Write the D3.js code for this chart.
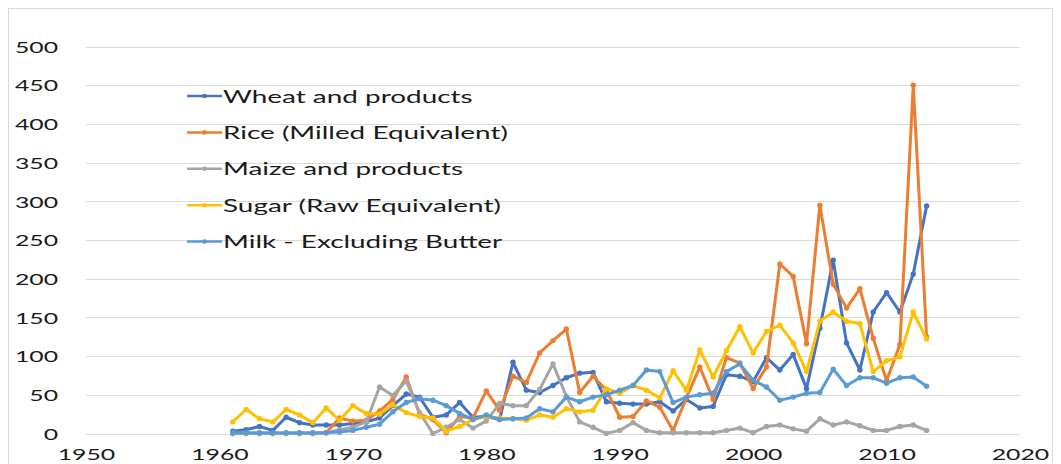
<!DOCTYPE html>
<html>
<head>
<meta charset="utf-8">
<script src="https://cdn.jsdelivr.net/npm/d3@7"></script>
<style>
  html, body { margin: 0; padding: 0; background: #fff; }
  svg { display: block; }
  text { font-family: Lato, "Open Sans", sans-serif; fill: #1a1a1a; }
</style>
</head>
<body>
<svg id="chart" width="1061" height="464"></svg>
<script>
// Yearly series, 1961–2013
const years = d3.range(1961, 2014);

const wheat = [3, 5, 9, 4, 21, 14, 11, 11, 11, 13, 15, 20, 36, 51, 47, 21, 24, 40, 21, 22,
  18, 92, 56, 53, 62, 72, 78, 79, 41, 39, 38, 38, 41, 29, 44, 33, 35, 76, 74, 67,
  98, 82, 102, 58, 136, 224, 117, 82, 157, 182, 157, 206, 294];

const rice = [0, 0, 0, 0, 0, 0, 0, 1, 20, 16, 17, 29, 44, 73, 25, 18, 1, 22, 20, 55,
  30, 74, 66, 104, 120, 135, 53, 74, 56, 21, 22, 42, 34, 4, 46, 86, 44, 98, 91, 58,
  86, 219, 203, 116, 295, 193, 162, 187, 123, 68, 115, 450, 125];

const maize = [0, 0, 0, 0, 0, 0, 0, 1, 5, 8, 15, 60, 49, 68, 27, 0, 8, 18, 7, 16,
  39, 36, 36, 57, 90, 48, 15, 8, 0, 4, 14, 4, 1, 1, 1, 1, 1, 4, 7, 1,
  9, 11, 6, 3, 19, 11, 15, 10, 4, 4, 9, 11, 4];

const sugar = [15, 31, 19, 15, 31, 24, 14, 33, 17, 36, 26, 25, 37, 27, 22, 20, 3, 9, 18, 22,
  20, 19, 17, 24, 21, 32, 28, 30, 58, 52, 62, 56, 46, 81, 56, 108, 73, 107, 138, 104,
  132, 140, 117, 80, 145, 157, 145, 142, 80, 94, 99, 157, 122];

const milk = [1, 1, 1, 1, 1, 1, 1, 1, 2, 4, 8, 12, 28, 40, 45, 43, 36, 26, 18, 24,
  18, 19, 20, 32, 28, 47, 41, 47, 50, 56, 62, 82, 80, 40, 47, 50, 52, 80, 90, 69,
  60, 43, 47, 52, 53, 83, 62, 72, 72, 65, 72, 73, 61];

const seriesNames = ["Wheat and products", "Rice (Milled Equivalent)", "Maize and products",
  "Sugar (Raw Equivalent)", "Milk - Excluding Butter"];
const seriesColors = ["#4472C4", "#ED7D31", "#A5A5A5", "#FFC000", "#5B9BD5"];
const seriesValues = [wheat, rice, maize, sugar, milk];

const xTicks = [1950, 1960, 1970, 1980, 1990, 2000, 2010, 2020];
const yTicks = [0, 50, 100, 150, 200, 250, 300, 350, 400, 450, 500];

const svg = d3.select("#chart");
const W = 1061, H = 464;
const plot = { left: 86, right: 1020, top: 46.5, bottom: 433.5 };
const SX = 1.55; // horizontal stretch of all labels

// outer chart frame
svg.append("rect")
  .attr("x", 8.5).attr("y", 8.5)
  .attr("width", W - 17).attr("height", H - 8)
  .attr("fill", "#fff").attr("stroke", "#d9d9d9").attr("stroke-width", 1);

const x = d3.scaleLinear().domain([1950, 2020]).range([plot.left, plot.right]);
const y = d3.scaleLinear().domain([0, 500]).range([plot.bottom, plot.top]);

// horizontal gridlines
svg.append("g")
  .selectAll("line")
  .data(yTicks)
  .join("line")
  .attr("x1", plot.left).attr("x2", plot.right)
  .attr("y1", d => Math.round(y(d)) + 0.5).attr("y2", d => Math.round(y(d)) + 0.5)
  .attr("stroke", "#d9d9d9").attr("stroke-width", 1);

// y axis labels
const yAxis = svg.append("g")
  .attr("transform", `translate(${plot.left},0)`)
  .call(d3.axisLeft(y).tickValues(yTicks).tickSize(0).tickPadding(0));
yAxis.select(".domain").remove();
yAxis.selectAll("text")
  .attr("x", -28 / SX)
  .attr("dy", "0.36em")
  .attr("transform", `scale(${SX},1)`)
  .style("font-family", "Lato, 'Open Sans', sans-serif")
  .style("font-size", "16px")
  .style("fill", "#1a1a1a");

// x axis labels
const xAxis = svg.append("g")
  .attr("transform", `translate(0,${plot.bottom})`)
  .call(d3.axisBottom(x).tickValues(xTicks).tickFormat(d3.format("d")).tickSize(0).tickPadding(0));
xAxis.select(".domain").remove();
xAxis.selectAll("text")
  .attr("y", 26.5)
  .attr("dy", 0)
  .attr("transform", `scale(${SX},1)`)
  .style("font-family", "Lato, 'Open Sans', sans-serif")
  .style("font-size", "16px")
  .style("fill", "#1a1a1a");

// series lines with small round markers
const line = d3.line().x(d => x(d.year)).y(d => y(d.value));
seriesValues.forEach((vals, i) => {
  const pts = years.map((yr, k) => ({ year: yr, value: vals[k] }));
  const g = svg.append("g");
  g.append("path")
    .datum(pts)
    .attr("d", line)
    .attr("fill", "none")
    .attr("stroke", seriesColors[i])
    .attr("stroke-width", 3)
    .attr("stroke-linejoin", "round")
    .attr("stroke-linecap", "round");
  g.selectAll("circle")
    .data(pts)
    .join("circle")
    .attr("cx", d => x(d.year))
    .attr("cy", d => y(d.value))
    .attr("r", 2.7)
    .attr("fill", seriesColors[i]);
});

// legend
const legend = svg.append("g");
seriesNames.forEach((name, i) => {
  const cy = 96 + i * 36.4;
  const row = legend.append("g");
  row.append("line")
    .attr("x1", 187).attr("x2", 222)
    .attr("y1", cy).attr("y2", cy)
    .attr("stroke", seriesColors[i]).attr("stroke-width", 2.5);
  row.append("circle")
    .attr("cx", 204.5).attr("cy", cy).attr("r", 2.3)
    .attr("fill", seriesColors[i]);
  row.append("text")
    .attr("transform", `translate(223,${cy + 6.6}) scale(${SX},1)`)
    .style("font-size", "18px")
    .text(name);
});
</script>
</body>
</html>
